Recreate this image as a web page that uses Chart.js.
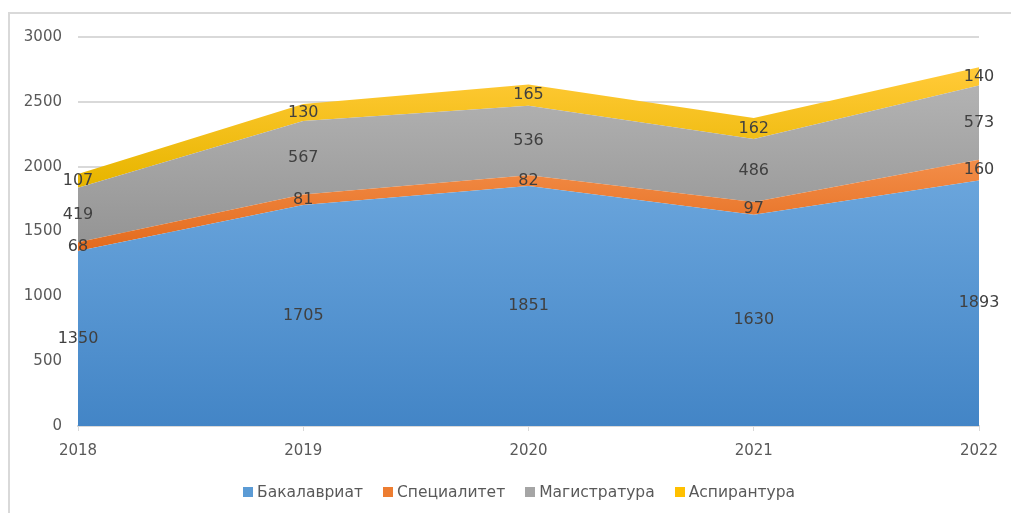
<!DOCTYPE html>
<html>
<head>
<meta charset="utf-8">
<script src="https://cdn.jsdelivr.net/npm/chart.js@4/dist/chart.umd.min.js"></script>
<style>
  html, body { margin: 0; padding: 0; background: #fff; }
  #wrap { position: relative; width: 1011px; height: 513px; overflow: hidden; }
  #frame { position: absolute; left: 8px; top: 12px; width: 1010px; height: 520px; border: 2px solid #d9d9d9; box-sizing: border-box; }
  canvas { position: absolute; left: 0; top: 0; }
  #legend { position: absolute; left: 243px; top: 482px; height: 20px; display: flex; align-items: center;
            font-family: 'DejaVu Sans', sans-serif; font-size: 15.5px; color: #595959; white-space: nowrap; }
  #legend .item { display: flex; align-items: center; margin-right: 20px; }
  #legend .box { width: 10px; height: 10px; margin-right: 4px; }
</style>
</head>
<body>
<div id="wrap">
  <div id="frame"></div>
  <canvas id="c" width="1011" height="513"></canvas>
  <div id="legend"></div>
</div>
<script>
const years = ['2018', '2019', '2020', '2021', '2022'];
const bachelor = [1350, 1705, 1851, 1630, 1893];
const specialist = [68, 81, 82, 97, 160];
const master = [419, 567, 536, 486, 573];
const postgrad = [107, 130, 165, 162, 140];
const seriesNames = ['Бакалавриат', 'Специалитет', 'Магистратура', 'Аспирантура'];
const yTicks = [0, 500, 1000, 1500, 2000, 2500, 3000];

const FONT = "'DejaVu Sans', sans-serif";
const legendColors = ['#5b9bd5', '#ed7d31', '#a5a5a5', '#ffc000'];
const gradStops = [
  [[0, '#7cb3e8'], [0.37, '#6aa5dc'], [1, '#4385c6']],
  [[0, '#f9a86c'], [0.3, '#f4904c'], [0.55, '#e36a1c'], [1, '#d05a10']],
  [[0, '#b8b8b8'], [0.16, '#b0b0b0'], [0.55, '#939393'], [1, '#868686']],
  [[0, '#ffcf40'], [0.1, '#ffc935'], [0.37, '#e8b600'], [1, '#d8a800']]
];

function makeGrad(idx) {
  return function (ctx) {
    const chart = ctx.chart;
    const a = chart.chartArea;
    if (!a) return legendColors[idx];
    const g = chart.ctx.createLinearGradient(0, a.top, 0, a.bottom);
    gradStops[idx].forEach(s => g.addColorStop(s[0], s[1]));
    return g;
  };
}

const seriesData = [bachelor, specialist, master, postgrad];
const datasets = seriesData.map((d, i) => ({
  label: seriesNames[i],
  data: d,
  fill: i === 0 ? 'origin' : '-1',
  backgroundColor: makeGrad(i),
  borderWidth: 0,
  borderColor: 'rgba(0,0,0,0)',
  pointRadius: 0,
  pointHoverRadius: 0,
  tension: 0
}));

const bandLabels = {
  id: 'bandLabels',
  afterDatasetsDraw(chart) {
    const ctx = chart.ctx;
    const ys = chart.scales.y;
    ctx.save();
    ctx.font = "16px " + FONT;
    ctx.fillStyle = '#404040';
    ctx.textAlign = 'center';
    ctx.textBaseline = 'middle';
    chart.data.datasets.forEach((ds, i) => {
      const meta = chart.getDatasetMeta(i);
      meta.data.forEach((pt, j) => {
        const below = i === 0 ? ys.getPixelForValue(0) : chart.getDatasetMeta(i - 1).data[j].y;
        const yc = (pt.y + below) / 2;
        ctx.fillText(String(ds.data[j]), pt.x, yc);
      });
    });
    ctx.restore();
  }
};

const chart = new Chart(document.getElementById('c'), {
  type: 'line',
  data: { labels: years, datasets: datasets },
  options: {
    responsive: false,
    animation: false,
    events: [],
    layout: { padding: { left: 0, right: 32, top: 37, bottom: 43 } },
    scales: {
      x: {
        offset: false,
        grid: { drawOnChartArea: false, drawTicks: true, tickLength: 5, color: '#d9d9d9', lineWidth: 1 },
        border: { display: true, color: '#d9d9d9', width: 2 },
        ticks: { color: '#595959', font: { family: FONT, size: 15 }, padding: 11, maxRotation: 0 },
        afterFit(s) { s.height = 44; }
      },
      y: {
        stacked: true,
        min: 0,
        max: 3000,
        afterBuildTicks(s) { s.ticks = yTicks.map(v => ({ value: v })); },
        grid: { color: '#d9d9d9', lineWidth: 2, drawTicks: false },
        border: { display: false },
        ticks: { color: '#595959', font: { family: FONT, size: 15 }, padding: 16, callback: v => String(v) },
        afterFit(s) { s.width = 78; }
      }
    },
    plugins: {
      tooltip: { enabled: false },
      legend: { display: false }
    }
  },
  plugins: [bandLabels]
});

const legendEl = document.getElementById('legend');
chart.data.datasets.forEach((ds, i) => {
  const item = document.createElement('div');
  item.className = 'item';
  const box = document.createElement('span');
  box.className = 'box';
  box.style.background = legendColors[i];
  const txt = document.createElement('span');
  txt.textContent = ds.label;
  item.appendChild(box);
  item.appendChild(txt);
  legendEl.appendChild(item);
});
</script>
</body>
</html>
